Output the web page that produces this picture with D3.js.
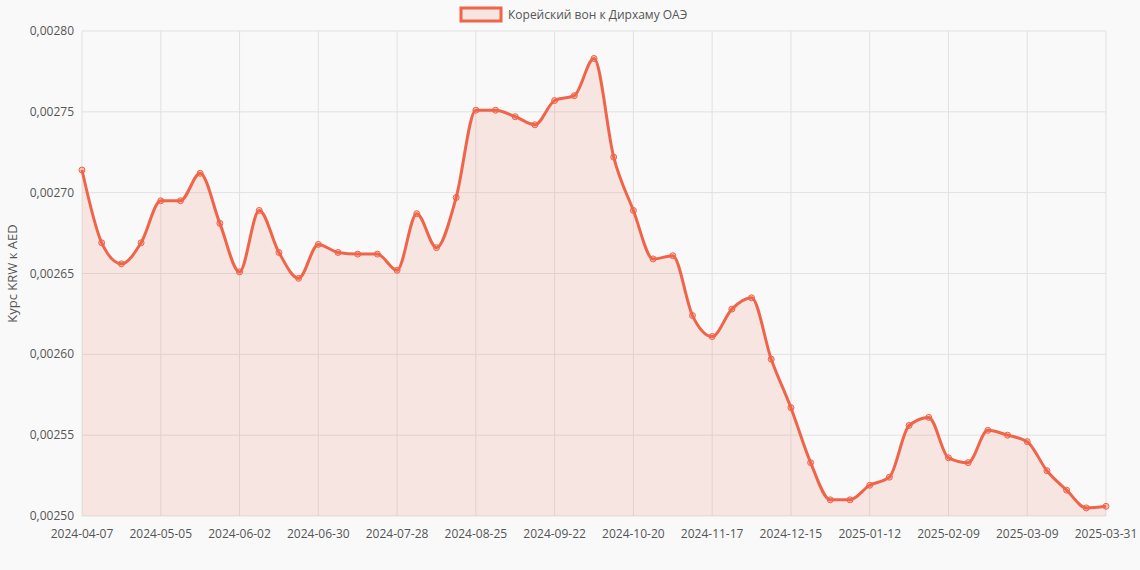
<!DOCTYPE html>
<html><head><meta charset="utf-8">
<script src="https://cdn.jsdelivr.net/npm/d3@7"></script>
<style>body{margin:0;background:#f9f9f9;}svg{display:block;font-family:"Open Sans",Arial,sans-serif;}</style>
</head><body><svg id="c" width="1140" height="570"></svg>
<script>
const values=[0.002714,0.002669,0.002656,0.002669,0.002695,0.002695,0.002712,0.002681,0.002651,0.002689,0.002663,0.002647,0.002668,0.002663,0.002662,0.002662,0.002652,0.002687,0.002666,0.002697,0.002751,0.002751,0.002747,0.002742,0.002757,0.002760,0.002783,0.002722,0.002689,0.002659,0.002661,0.002624,0.002611,0.002628,0.002635,0.002597,0.002567,0.002533,0.002510,0.002510,0.002519,0.002524,0.002556,0.002561,0.002536,0.002533,0.002553,0.002550,0.002546,0.002528,0.002516,0.002505,0.002506];
const start=new Date(Date.UTC(2024,3,7));
const categories=values.map((v,i)=>i===values.length-1?"2025-03-31":new Date(start.getTime()+i*7*864e5).toISOString().slice(0,10));
const yTicks=[0.00250,0.00255,0.00260,0.00265,0.00270,0.00275,0.00280];
const seriesName="Корейский вон к Дирхаму ОАЭ";
const yTitle="Курс KRW к AED";
const color="#f0654a";

const svg=d3.select("#c");
const L=82,R=1106,T=31,B=516;
const x=d3.scalePoint().domain(categories).range([L,R]);
const y=d3.scaleLinear().domain([0.0025,0.0028]).range([B,T]);
const fmt=v=>v.toFixed(5).replace(".",",");
// grid
svg.append("g").selectAll("line").data(yTicks).join("line")
 .attr("x1",L).attr("x2",R).attr("y1",d=>y(d)).attr("y2",d=>y(d)).attr("stroke","#e1e1e1");
const xt=categories.filter((c,i)=>i%4===0||i===categories.length-1);
svg.append("g").selectAll("line").data(xt).join("line")
 .attr("x1",d=>x(d)).attr("x2",d=>x(d)).attr("y1",T).attr("y2",B).attr("stroke","#e1e1e1");
svg.append("g").selectAll("text").data(yTicks).join("text")
 .attr("x",L-8).attr("y",d=>y(d)+4).attr("text-anchor","end").attr("font-size",12).attr("fill","#555").text(fmt);
svg.append("g").selectAll("text").data(xt).join("text")
 .attr("x",d=>x(d)).attr("y",B+22).attr("text-anchor","middle").attr("font-size",12).attr("fill","#555").text(d=>d);
svg.append("text").attr("transform",`translate(17,${(T+B)/2}) rotate(-90)`).attr("text-anchor","middle").attr("font-size",13).attr("fill","#555").text(yTitle);
const data=values.map((v,i)=>[categories[i],v]);
svg.append("path").datum(data).attr("fill","rgba(240,101,74,0.13)")
 .attr("d",d3.area().x(d=>x(d[0])).y0(B).y1(d=>y(d[1])).curve(d3.curveMonotoneX));
svg.append("path").datum(data).attr("fill","none").attr("stroke",color).attr("stroke-width",3)
 .attr("d",d3.line().x(d=>x(d[0])).y(d=>y(d[1])).curve(d3.curveMonotoneX));
svg.append("g").selectAll("circle").data(data).join("circle")
 .attr("cx",d=>x(d[0])).attr("cy",d=>y(d[1])).attr("r",3).attr("fill","rgba(240,101,74,0.35)").attr("stroke",color).attr("stroke-width",1);
// legend
svg.append("rect").attr("x",461).attr("y",8).attr("width",40).attr("height",13).attr("fill","rgba(240,101,74,0.13)").attr("stroke",color).attr("stroke-width",3);
svg.append("text").attr("x",508).attr("y",19).attr("font-size",12).attr("fill","#555").text(seriesName);
</script></body></html>
